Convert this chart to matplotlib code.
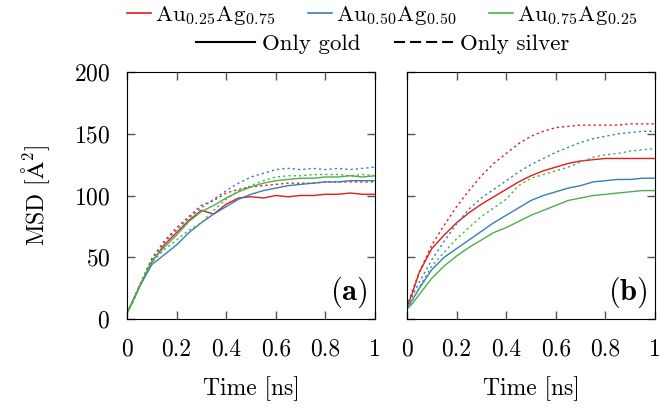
import matplotlib.pyplot as plt
from matplotlib.lines import Line2D

plt.rcParams['font.family'] = 'serif'
plt.rcParams['font.serif'] = ['cmr10']
plt.rcParams['mathtext.fontset'] = 'cm'
plt.rcParams['axes.formatter.use_mathtext'] = True
plt.rcParams['font.size'] = 17

# tiempo (ns)
tiempo = [0, 0.02, 0.05, 0.1, 0.15, 0.2, 0.25, 0.3, 0.35, 0.4, 0.45, 0.5,
          0.55, 0.6, 0.65, 0.7, 0.75, 0.8, 0.85, 0.9, 0.95, 1.0]

# panel (a)
a_oro_025 = [5, 13, 26, 46, 60, 70, 80, 88, 85, 93, 98, 99, 98, 100, 99, 100, 100, 101, 101, 102, 101, 101]
a_plata_025 = [5, 13, 27, 49, 63, 74, 83, 92, 96, 102, 105, 107, 108, 109, 110, 110, 110, 111, 111, 111, 111, 111]
a_oro_050 = [5, 13, 26, 44, 52, 60, 70, 78, 85, 91, 97, 101, 104, 106, 108, 109, 110, 111, 111, 112, 112, 112]
a_plata_050 = [5, 13, 27, 48, 62, 72, 82, 90, 97, 104, 110, 115, 118, 121, 122, 121, 122, 121, 122, 121, 122, 123]
a_oro_075 = [5, 13, 26, 47, 58, 68, 79, 87, 92, 98, 103, 107, 110, 112, 113, 114, 114, 115, 115, 116, 115, 116]
a_plata_075 = [5, 12, 26, 46, 56, 64, 72, 78, 88, 97, 104, 108, 112, 115, 116, 116, 117, 117, 117, 116, 117, 116]

# panel (b)
b_oro_025 = [10, 20, 38, 57, 68, 78, 86, 93, 99, 105, 111, 116, 120, 123, 126, 128, 129, 130, 130, 130, 130, 130]
b_plata_025 = [10, 22, 38, 60, 76, 91, 104, 116, 126, 134, 142, 148, 152, 155, 156, 157, 157, 157, 157, 158, 158, 158]
b_oro_050 = [9, 15, 25, 40, 50, 57, 64, 71, 78, 84, 90, 96, 100, 103, 106, 108, 111, 112, 113, 113, 114, 114]
b_plata_050 = [10, 18, 30, 48, 63, 77, 89, 98, 105, 112, 119, 125, 130, 135, 139, 143, 146, 148, 150, 151, 152, 152]
b_oro_075 = [8, 12, 20, 33, 43, 51, 58, 64, 70, 74, 79, 84, 88, 92, 96, 98, 100, 101, 102, 103, 104, 104]
b_plata_075 = [8, 14, 26, 43, 54, 65, 74, 83, 90, 97, 108, 114, 117, 120, 123, 127, 131, 133, 134, 136, 137, 138]

rojo, azul, verde = '#e41a1c', '#377eb8', '#4daf4a'
punteado = (0, (1.6, 2.2))

fig = plt.figure(figsize=(6.62, 4.11), dpi=100)
ax1 = fig.add_axes([0.1918, 0.2238, 0.3747, 0.601])
ax2 = fig.add_axes([0.6148, 0.2238, 0.3747, 0.601])

paneles = [
    (ax1, [(a_oro_025, a_plata_025, rojo), (a_oro_050, a_plata_050, azul), (a_oro_075, a_plata_075, verde)], '(a)'),
    (ax2, [(b_oro_025, b_plata_025, rojo), (b_oro_050, b_plata_050, azul), (b_oro_075, b_plata_075, verde)], '(b)'),
]

for ax, series, etiqueta in paneles:
    for oro, plata, c in series:
        ax.plot(tiempo, plata, color=c, lw=1.0, linestyle=punteado)
        ax.plot(tiempo, oro, color=c, lw=1.0)
    ax.set_xlim(0, 1)
    ax.set_ylim(0, 200)
    ax.set_xticks([0, 0.2, 0.4, 0.6, 0.8, 1])
    ax.set_xticklabels(['0', '0.2', '0.4', '0.6', '0.8', '1'])
    ax.set_yticks([0, 50, 100, 150, 200])
    ax.tick_params(direction='in', length=6, width=1, top=True, right=True,
                   color='#555555')
    ax.tick_params(axis='x', pad=14)
    ax.tick_params(axis='y', pad=12)
    ax.set_xlabel('Time [ns]', labelpad=11)
    ax.text(0.97, 0.035, r'$\mathbf{' + etiqueta + '}$', transform=ax.transAxes,
            ha='right', va='bottom', fontsize=22)

ax2.set_yticklabels([])
ax1.set_ylabel(r'MSD [$\mathrm{\AA}^2$]', labelpad=16)

# leyenda
h1 = [Line2D([], [], color=rojo, lw=1.2), Line2D([], [], color=azul, lw=1.2), Line2D([], [], color=verde, lw=1.2)]
l1 = [r'Au$_{0.25}$Ag$_{0.75}$', r'Au$_{0.50}$Ag$_{0.50}$', r'Au$_{0.75}$Ag$_{0.25}$']
fig.legend(h1, l1, loc='center', bbox_to_anchor=(0.577, 0.963), ncol=3, frameon=False,
           fontsize=16.5, handlelength=1.05, handletextpad=0.15, columnspacing=1.45, borderpad=0)
h2 = [Line2D([], [], color='black', lw=1.5), Line2D([], [], color='black', lw=1.5, linestyle=(0, (5.3, 2.4)))]
l2 = ['Only gold', 'Only silver']
fig.legend(h2, l2, loc='center', bbox_to_anchor=(0.578, 0.893), ncol=2, frameon=False,
           fontsize=16.5, handlelength=2.6, handletextpad=0.3, columnspacing=1.45, borderpad=0)

plt.savefig('out.png', dpi=100)
